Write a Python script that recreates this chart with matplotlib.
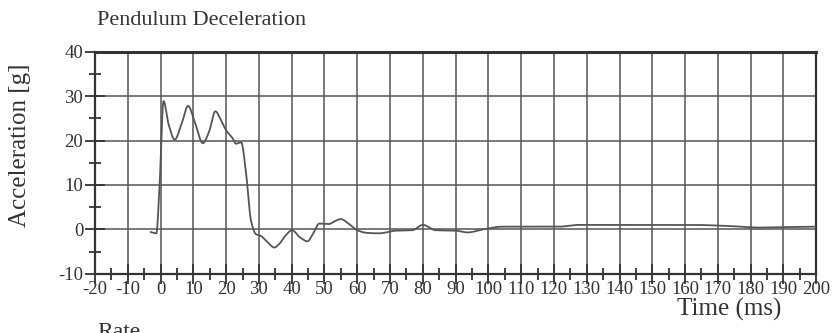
import matplotlib
matplotlib.use("Agg")
import matplotlib.pyplot as plt
import numpy as np
from matplotlib.ticker import MultipleLocator

# Data
time_ms = [-3.0, -1.3, -0.3, 0.9, 2.5, 4.3, 6.3, 8.4, 10.5, 12.9, 14.8, 16.7, 18.5, 20.0, 22.0,
           23.0, 24.6, 26.1, 27.6, 29.1, 30.6, 32.5, 34.7, 36.2, 38.0, 40.1, 42.5, 44.8,
           46.5, 48.4, 51.4, 53.0, 55.0, 57.5, 60.0, 63.0, 66.7, 71.7, 76.8, 80.0, 83.9,
           90.0, 93.5, 99.1, 104.2, 112.3, 121.5, 127.5, 136.7, 150.0, 162.0, 172.0,
           182.4, 190.0, 199.6]
accel_g = [-0.6, -0.9, 10.0, 28.9, 23.5, 20.2, 23.5, 27.8, 24.0, 19.4, 22.0, 26.6, 24.5, 22.3, 20.5,
           19.3, 19.6, 12.5, 1.9, -1.1, -1.5, -2.8, -4.1, -3.3, -1.5, -0.2, -1.8, -2.7,
           -1.0, 1.3, 1.2, 1.8, 2.3, 1.2, -0.2, -0.8, -0.9, -0.3, -0.2, 1.0, -0.2,
           -0.3, -0.7, 0.1, 0.6, 0.6, 0.6, 1.0, 1.0, 1.0, 1.0, 0.8,
           0.4, 0.5, 0.6]

x_min, x_max = -20, 200
y_min, y_max = -10, 40
x_tick_labels = ["-20", "-10", "0", "10", "20", "30", "40", "50", "60", "70", "80", "90", "100",
                 "110", "120", "130", "140", "150", "160", "170", "180", "190", "200"]
y_tick_labels = ["-10", "0", "10", "20", "30", "40"]

plt.rcParams['font.family'] = ['Liberation Serif', 'DejaVu Serif']

fig = plt.figure(figsize=(8.32, 3.33), dpi=100)
ax = fig.add_axes([0.1142, 0.178, 0.8668, 0.6665])


def pchip(tp, ap, xs):
    h = np.diff(tp)
    d = np.diff(ap) / h
    m = np.zeros_like(ap)
    for k in range(1, len(tp) - 1):
        if d[k - 1] * d[k] <= 0:
            m[k] = 0.0
        else:
            w1 = 2 * h[k] + h[k - 1]
            w2 = h[k] + 2 * h[k - 1]
            m[k] = (w1 + w2) / (w1 / d[k - 1] + w2 / d[k])
    m[0] = d[0]
    m[-1] = d[-1]
    idx = np.clip(np.searchsorted(tp, xs) - 1, 0, len(tp) - 2)
    hh = tp[idx + 1] - tp[idx]
    s = (xs - tp[idx]) / hh
    h00 = 2 * s**3 - 3 * s**2 + 1
    h10 = s**3 - 2 * s**2 + s
    h01 = -2 * s**3 + 3 * s**2
    h11 = s**3 - s**2
    return h00 * ap[idx] + h10 * hh * m[idx] + h01 * ap[idx + 1] + h11 * hh * m[idx + 1]


t = np.array(time_ms)
a = np.array(accel_g)
tt = np.linspace(t[0], t[-1], 4000)
aa = pchip(t, a, tt)

ax.plot(tt, aa, color='#555555', lw=1.3, zorder=3)

ax.set_xlim(x_min, x_max)
ax.set_ylim(y_min, y_max)
ax.set_xticks(np.arange(x_min, x_max + 1, 10))
ax.set_xticklabels(x_tick_labels)
ax.set_yticks(np.arange(y_min, y_max + 1, 10))
ax.set_yticklabels(y_tick_labels)
ax.xaxis.set_minor_locator(MultipleLocator(5))
ax.yaxis.set_minor_locator(MultipleLocator(5))
ax.tick_params(which='major', direction='inout', length=15, width=1.3, color='#333333',
               labelsize=13.5, labelcolor='#333333', pad=1)
ax.tick_params(which='minor', direction='inout', length=8, width=1.3, color='#333333')
ax.tick_params(axis='x', which='major', pad=-2)
ax.grid(True, which='major', color='#555555', lw=1.1)
for s in ['left', 'bottom', 'right']:
    ax.spines[s].set_linewidth(1.6)
    ax.spines[s].set_color('#333333')
ax.spines['top'].set_linewidth(2.2)
ax.spines['top'].set_color('#333333')

fig.text(0.117, 0.937, "Pendulum Deceleration", fontsize=16, color='#333333', va='center', ha='left')
ax.set_ylabel("Acceleration [g]", fontsize=18, color='#333333')
ax.yaxis.set_label_coords(-0.089, 0.578)
fig.text(0.877, 0.072, "Time (ms)", fontsize=18, color='#333333', ha='center', va='center')
fig.text(0.117, 0.0, "Rate", fontsize=17, color='#333333', ha='left', va='center')

fig.savefig("out.png", dpi=100)
